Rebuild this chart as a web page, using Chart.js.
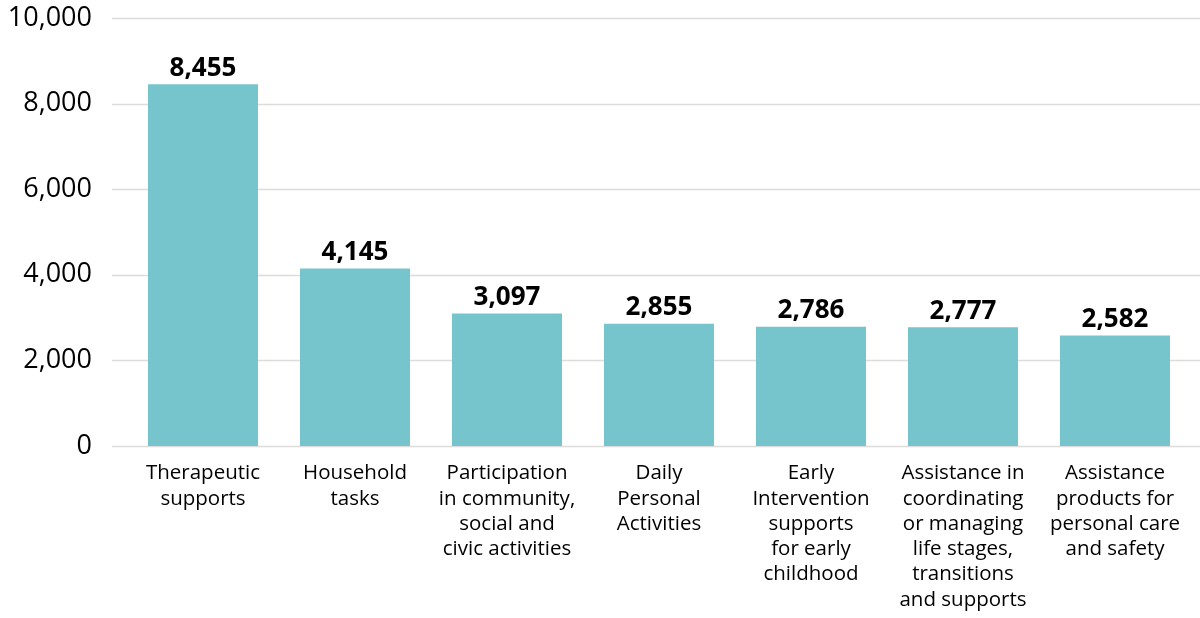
<!DOCTYPE html>
<html lang="en">
<head>
    <meta charset="UTF-8">
    <title>Supports chart</title>
    <style>
        html, body { margin: 0; padding: 0; background: #fff; }
        #grafico { width: 1200px; height: 618px; }
    </style>
</head>
<body>
    <div id="grafico"><canvas id="supports"></canvas></div>

<script src="https://cdn.jsdelivr.net/npm/chart.js"></script>
<script>
const categorias = [
    ["Therapeutic", "supports"],
    ["Household", "tasks"],
    ["Participation", "in community,", "social and", "civic activities"],
    ["Daily", "Personal", "Activities"],
    ["Early", "Intervention", "supports", "for early", "childhood"],
    ["Assistance in", "coordinating", "or managing", "life stages,", "transitions", "and supports"],
    ["Assistance", "products for", "personal care", "and safety"]
];
const valores = [8455, 4145, 3097, 2855, 2786, 2777, 2582];
const ticksY = [0, 2000, 4000, 6000, 8000, 10000];

const fonte = "'Open Sans', 'Noto Sans', sans-serif";

// linhas de grade mais largas que a area do grafico
const gradePlugin = {
    id: 'grade',
    beforeDatasetsDraw(chart) {
        const ctx = chart.ctx;
        const y = chart.scales.y;
        ctx.save();
        ctx.strokeStyle = '#dcdcdc';
        ctx.lineWidth = 1.5;
        ticksY.forEach(v => {
            const py = Math.round(y.getPixelForValue(v)) + 0.5;
            ctx.beginPath();
            ctx.moveTo(112, py);
            ctx.lineTo(1200, py);
            ctx.stroke();
        });
        ctx.restore();
    }
};

// valores em cima das barras
const rotulosPlugin = {
    id: 'rotulos',
    afterDatasetsDraw(chart) {
        const ctx = chart.ctx;
        const meta = chart.getDatasetMeta(0);
        ctx.save();
        ctx.font = "bold 26px " + fonte;
        ctx.fillStyle = '#000';
        ctx.textAlign = 'center';
        ctx.textBaseline = 'bottom';
        meta.data.forEach((bar, i) => {
            ctx.fillText(valores[i].toLocaleString('en-US'), bar.x, bar.y - 3);
        });
        ctx.restore();
    }
};

const ctx = document.getElementById('supports').getContext('2d');

new Chart(ctx, {
    type: 'bar',
    data: {
        labels: categorias,
        datasets: [{
            data: valores,
            backgroundColor: '#76C4CC',
            barPercentage: 1,
            categoryPercentage: 110 / 152
        }]
    },
    options: {
        responsive: true,
        maintainAspectRatio: false,
        animation: false,
        layout: { padding: { top: 18, right: 9, left: 0, bottom: 0 } },
        plugins: {
            legend: { display: false },
            tooltip: { enabled: false }
        },
        scales: {
            x: {
                grid: { display: false },
                border: { display: false },
                ticks: {
                    color: '#000',
                    font: { family: fonte, size: 20.5, lineHeight: 1.23 },
                    padding: 7,
                    maxRotation: 0,
                    autoSkip: false
                },
                afterFit(scale) { scale.height = 172; }
            },
            y: {
                min: 0,
                max: 10000,
                grid: { display: false, drawTicks: true, tickLength: 35 },
                border: { display: false },
                afterBuildTicks(scale) { scale.ticks = ticksY.map(v => ({ value: v })); },
                ticks: {
                    color: '#000',
                    font: { family: fonte, size: 27 },
                    padding: 0,
                    callback: v => v.toLocaleString('en-US')
                },
                afterFit(scale) { scale.width = 127; }
            }
        }
    },
    plugins: [gradePlugin, rotulosPlugin]
});
</script>
</body>
</html>
